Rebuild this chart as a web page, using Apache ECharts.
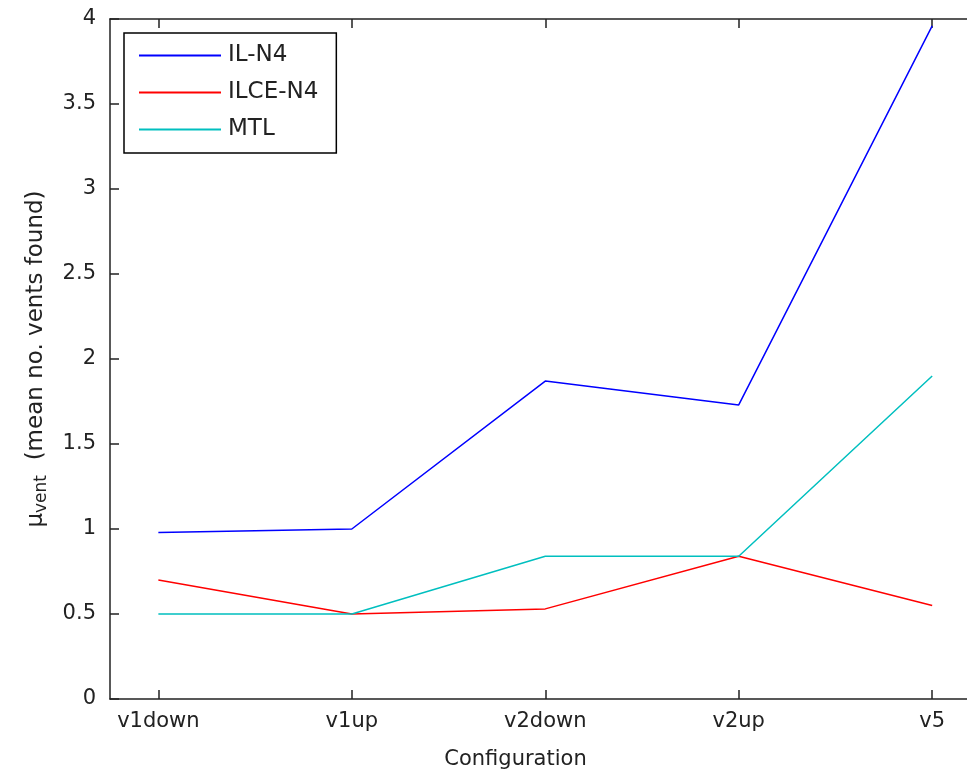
<!DOCTYPE html>
<html>
<head>
<meta charset="utf-8">
<script src="https://cdn.jsdelivr.net/npm/echarts@6/dist/echarts.min.js"></script>
<style>html,body{margin:0;padding:0;background:#fff}#c{width:967px;height:775px}</style>
</head>
<body>
<div id="c"></div>
<script>
var categories = ['v1down', 'v1up', 'v2down', 'v2up', 'v5'];
var seriesNames = ['IL-N4', 'ILCE-N4', 'MTL'];
var ilN4 = [0.98, 1.0, 1.87, 1.73, 3.96];
var ilceN4 = [0.70, 0.50, 0.53, 0.84, 0.55];
var mtl = [0.50, 0.50, 0.84, 0.84, 1.90];
var yTicks = [0, 0.5, 1, 1.5, 2, 2.5, 3, 3.5, 4];
var colors = ['#0000ff', '#ff0000', '#00bfbf'];

function pairs(arr) { return arr.map(function (v, i) { return [i + 1, v]; }); }
var xTickVals = categories.map(function (c, i) { return i + 1; });

var FONT = 'DejaVu Sans';
var FS = 21;
var TXT = '#222';
var chart = echarts.init(document.getElementById('c'), null, { renderer: 'canvas' });
var axisCol = '#222';
chart.setOption({
  animation: false,
  backgroundColor: '#fff',
  textStyle: { fontFamily: FONT },
  grid: { left: 110, top: 19, height: 684, right: 0, containLabel: false },
  legend: {
    orient: 'vertical', left: 124, top: 33,
    data: seriesNames.map(function (n) { return { name: n, icon: 'rect' }; }),
    backgroundColor: '#fff', borderColor: '#000', borderWidth: 1.5,
    padding: [11, 18, 12, 15], itemGap: 14,
    itemWidth: 82, itemHeight: 2,
    textStyle: { fontFamily: FONT, fontSize: 23, color: TXT, padding: [0, 0, 0, 2] }
  },
  xAxis: [{
    type: 'value', min: 0.75, max: 5.18, position: 'bottom',
    name: 'Configuration', nameLocation: 'middle', nameGap: 50,
    nameTextStyle: { fontFamily: FONT, fontSize: FS, color: TXT, padding: [0, 46, 0, 0] },
    axisLine: { show: true, onZero: false, lineStyle: { color: axisCol, width: 1.5 } },
    axisTick: { show: true, inside: true, length: 9, customValues: xTickVals, lineStyle: { color: axisCol, width: 1.5 } },
    axisLabel: { show: true, customValues: xTickVals, margin: 12, fontFamily: FONT, fontSize: FS, color: TXT,
      formatter: function (v) { return categories[Math.round(v) - 1] || ''; } },
    splitLine: { show: false }
  }, {
    type: 'value', min: 0.75, max: 5.18, position: 'top',
    axisLine: { show: true, onZero: false, lineStyle: { color: axisCol, width: 1.5 } },
    axisTick: { show: true, inside: true, length: 9, customValues: xTickVals, lineStyle: { color: axisCol, width: 1.5 } },
    axisLabel: { show: false },
    splitLine: { show: false }
  }],
  yAxis: {
    type: 'value', min: 0, max: 4, interval: 0.5,
    name: '{mu|μ}{sub|vent}{t|  (mean no. vents found)}', nameLocation: 'middle', nameGap: 60, nameRotate: 90,
    nameTextStyle: {
      fontFamily: FONT, fontSize: 23, color: TXT,
      rich: {
        mu: { fontFamily: FONT, fontSize: 23, color: TXT },
        sub: { fontFamily: FONT, fontSize: 17, color: TXT, verticalAlign: 'bottom', padding: [10, 0, 0, 0] },
        t: { fontFamily: FONT, fontSize: 23, color: TXT }
      }
    },
    axisLine: { show: true, lineStyle: { color: axisCol, width: 1.5 } },
    axisTick: { show: true, inside: true, length: 9, lineStyle: { color: axisCol, width: 1.5 } },
    axisLabel: { fontFamily: FONT, fontSize: FS, color: TXT, margin: 14,
      formatter: function (v) { return yTicks.indexOf(v) >= 0 ? String(v) : ''; } },
    splitLine: { show: false }
  },
  series: [
    { name: seriesNames[0], type: 'line', data: pairs(ilN4), symbol: 'none', lineStyle: { color: colors[0], width: 1.5 }, itemStyle: { color: colors[0] } },
    { name: seriesNames[1], type: 'line', data: pairs(ilceN4), symbol: 'none', lineStyle: { color: colors[1], width: 1.5 }, itemStyle: { color: colors[1] } },
    { name: seriesNames[2], type: 'line', data: pairs(mtl), symbol: 'none', lineStyle: { color: colors[2], width: 1.5 }, itemStyle: { color: colors[2] } }
  ]
});
</script>
</body>
</html>
